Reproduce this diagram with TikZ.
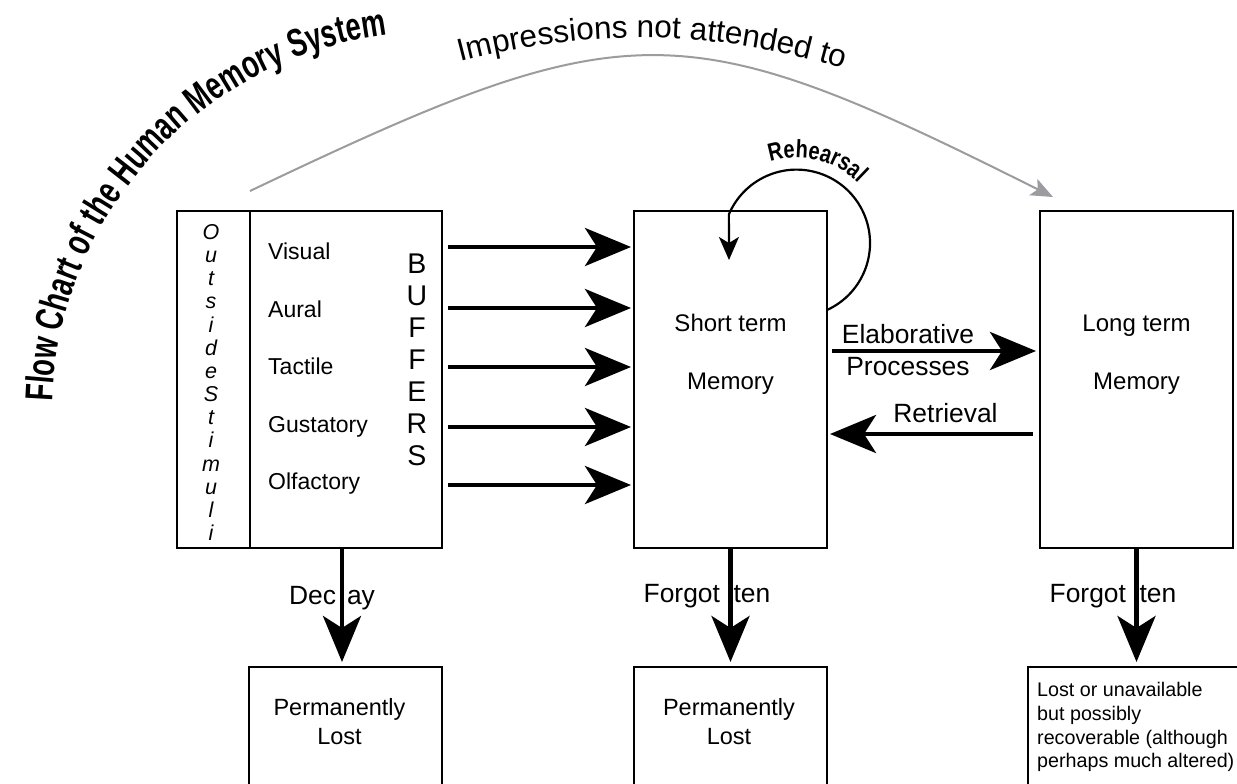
\documentclass[tikz,border=0pt]{standalone}
\usepackage{fontspec}
\setmainfont{Liberation Sans}
\newfontfamily\titlefont[FakeStretch=0.7]{Liberation Sans}
\newfontfamily\rehfont[FakeStretch=0.8]{Liberation Sans}
\usetikzlibrary{arrows.meta,decorations.text}
\definecolor{arcgray}{RGB}{155,155,160}
\begin{document}
\begin{tikzpicture}[x=1pt,y=-1pt,
  box/.style={draw, line width=2.5pt, inner sep=0pt, outer sep=0pt},
  fat/.style={line width=4.5pt, -{Stealth[length=46pt,width=38pt,inset=12pt]}},
  rehe/.style={line width=2.2pt, -{Stealth[length=23pt,width=20pt,inset=6pt]}},
  grayarc/.style={line width=2pt, draw=arcgray, -{Stealth[length=22pt,width=18pt,inset=5pt,fill=arcgray]}},
  sense/.style={inner sep=0pt, anchor=base west, font=\fontsize{23}{27}\selectfont},
  boxlbl/.style={inner sep=0pt, anchor=base, font=\fontsize{24}{28}\selectfont},
  arrlbl/.style={inner sep=0pt, anchor=base, font=\fontsize{26.4}{30}\selectfont}]
\path[use as bounding box] (0,0) rectangle (1237,784);
\clip (0,0) rectangle (1237,784);

% boxes
\node[box, minimum width=73pt, minimum height=337pt] (stim) at (213.5,379.5) {};
\node[box, minimum width=192pt, minimum height=337pt] (buf) at (346,379.5) {};
\node[box, minimum width=193pt, minimum height=337pt] (stm) at (730.5,379.5) {};
\node[box, minimum width=193pt, minimum height=337pt] (ltm) at (1136.5,379.5) {};
\node[box, minimum width=193pt, minimum height=140pt] (lost1) at (345.5,737) {};
\node[box, minimum width=193pt, minimum height=140pt] (lost2) at (730.5,737) {};
\node[box, minimum width=220pt, minimum height=140pt] (lost3) at (1138,737) {};

% outside stimuli
\node[inner sep=0pt, align=center, font=\fontsize{21.5}{23.15}\selectfont\itshape] (stimtext) at (211,382.5)
  {O\\u\\t\\s\\i\\d\\e\\S\\t\\i\\m\\u\\l\\i};
\node[inner sep=0pt, align=center, font=\fontsize{28.5}{32}\selectfont] (buftext) at (417,359.5)
  {B\\U\\F\\F\\E\\R\\S};

% senses
\node[sense] (vis) at (268,259) {Visual};
\node[sense] (aur) at (268,317) {Aural};
\node[sense] (tac) at (268,374) {Tactile};
\node[sense] (gus) at (268,432) {Gustatory};
\node[sense] (olf) at (268,489) {Olfactory};

% box labels
\node[boxlbl] (stm1) at (730.5,331) {Short term};
\node[boxlbl] (stm2) at (730.5,389) {Memory};
\node[boxlbl] (ltm1) at (1136.5,331) {Long term};
\node[boxlbl] (ltm2) at (1136.5,389) {Memory};
\node[inner sep=0pt, anchor=north, align=center, font=\fontsize{23.5}{28.3}\selectfont] (l1text) at (339.5,698.6) {Permanently\\Lost};
\node[inner sep=0pt, anchor=north, align=center, font=\fontsize{23.5}{28.3}\selectfont] (l2text) at (729,698.6) {Permanently\\Lost};
\node[inner sep=0pt, anchor=north west, align=left, font=\fontsize{19.7}{23.7}\selectfont] (l3text) at (1037,682.3)
  {Lost or unavailable\\but possibly\\recoverable (although\\perhaps much altered)};

% arrow labels
\node[arrlbl] (elab1) at (908,343) {Elaborative};
\node[arrlbl] (elab2) at (908,375) {Processes};
\node[arrlbl] (retr) at (945.5,422) {Retrieval};
\node[arrlbl] (decay) at (332,604) {Dec\hspace{11pt}ay};
\node[arrlbl] (forg1) at (707,602) {Forgot\hspace{13.7pt}ten};
\node[arrlbl] (forg2) at (1113,602) {Forgot\hspace{13.7pt}ten};

% rows
\coordinate (r1) at (0,247);
\coordinate (r2) at (0,308);
\coordinate (r3) at (0,367);
\coordinate (r4) at (0,427);
\coordinate (r5) at (0,485);
\coordinate (r6) at (0,351);
\coordinate (r7) at (0,434);

\foreach \r in {r1,r2,r3,r4,r5}
  \draw[fat] ([xshift=6pt]buf.east |- \r) -- ([xshift=-3pt]stm.west |- \r);
\draw[fat] ([xshift=5pt]stm.east |- r6) -- ([xshift=-4pt]ltm.west |- r6);
\draw[fat] ([xshift=-7pt]ltm.west |- r7) -- ([xshift=3pt]stm.east |- r7);

\draw[fat, shorten >=5pt] ([xshift=-4pt]buf.south) -- ([xshift=-4pt]buf.south |- lost1.north);
\draw[fat, shorten >=5pt] (stm.south) -- (lost2.north);
\draw[fat, shorten >=5pt] (ltm.south) -- (ltm.south |- lost3.north);

% rehearsal loop
\coordinate (rs) at (827,310);
\coordinate (rt) at (729,260);
\draw[rehe] (rs) arc[start angle=65.5, end angle=-157, radius=73.5] -- (rt);
\path[decorate, decoration={text along path, text align=left,
   text={|\rehfont\bfseries\fontsize{25}{29}\selectfont|Rehearsal}}]
   (796.7,243.6) ++(252:86) arc[start angle=252, end angle=340, radius=86];

% impressions not attended to
\coordinate (gs) at ([yshift=20pt]buf.north west);
\coordinate (ge) at ([xshift=13pt,yshift=14pt]ltm.north west);
\draw[grayarc] (gs) .. controls (630,10) and (680,10) .. (ge);
\path[decorate, decoration={text along path, text align=left,
   text={|\fontsize{31.5}{36}\selectfont|Impressions not attended to}}]
   (460,62) .. controls (590,28) and (720,28) .. (860,74);

% title
\path[decorate, decoration={text along path, text align=left,
   text={|\titlefont\bfseries\fontsize{39}{45}\selectfont|Flow Chart of the Human Memory System}}]
   (435,415) ++(182:383) arc[start angle=182, end angle=272, radius=383];
\end{tikzpicture}
\end{document}
